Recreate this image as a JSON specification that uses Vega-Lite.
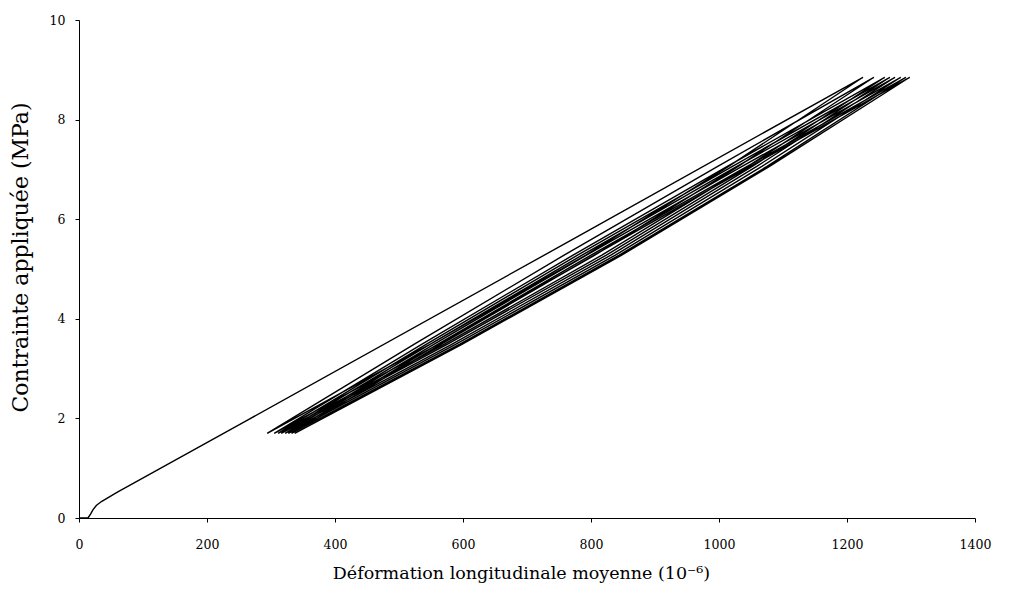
{
  "$schema": "https://vega.github.io/schema/vega-lite/v6.json",
  "autosize": "none",
  "width": 896,
  "height": 498,
  "padding": {"left": 79, "top": 20, "right": 46, "bottom": 74},
  "background": "white",
  "config": {
    "view": {"stroke": null},
    "font": "DejaVu Serif",
    "axis": {
      "grid": false,
      "domainColor": "black",
      "tickColor": "black",
      "labelColor": "black",
      "titleColor": "black",
      "labelFont": "DejaVu Serif",
      "titleFont": "DejaVu Serif",
      "labelFontSize": 12.5,
      "titleFontWeight": "normal",
      "tickSize": 4,
      "labelFlush": false
    }
  },
  "data": {
    "values": [
      {"i": 1, "x": 0, "y": 0},
      {"i": 2, "x": 14, "y": 0},
      {"i": 3, "x": 18, "y": 0.08},
      {"i": 4, "x": 22, "y": 0.17},
      {"i": 5, "x": 27, "y": 0.25},
      {"i": 6, "x": 35, "y": 0.33},
      {"i": 7, "x": 60, "y": 0.52},
      {"i": 8, "x": 264, "y": 1.97},
      {"i": 9, "x": 800, "y": 5.8},
      {"i": 10, "x": 1225, "y": 8.85},
      {"i": 11, "x": 1015, "y": 7.06},
      {"i": 12, "x": 792, "y": 5.28},
      {"i": 13, "x": 549, "y": 3.49},
      {"i": 14, "x": 294, "y": 1.7},
      {"i": 15, "x": 524, "y": 3.49},
      {"i": 16, "x": 758, "y": 5.28},
      {"i": 17, "x": 998, "y": 7.06},
      {"i": 18, "x": 1242, "y": 8.85},
      {"i": 19, "x": 1030, "y": 7.06},
      {"i": 20, "x": 806, "y": 5.28},
      {"i": 21, "x": 562, "y": 3.49},
      {"i": 22, "x": 305, "y": 1.7},
      {"i": 23, "x": 536, "y": 3.49},
      {"i": 24, "x": 772, "y": 5.28},
      {"i": 25, "x": 1013, "y": 7.06},
      {"i": 26, "x": 1259, "y": 8.85},
      {"i": 27, "x": 1045, "y": 7.06},
      {"i": 28, "x": 817, "y": 5.28},
      {"i": 29, "x": 571, "y": 3.49},
      {"i": 30, "x": 311, "y": 1.7},
      {"i": 31, "x": 543, "y": 3.49},
      {"i": 32, "x": 779, "y": 5.28},
      {"i": 33, "x": 1021, "y": 7.06},
      {"i": 34, "x": 1267, "y": 8.85},
      {"i": 35, "x": 1052, "y": 7.06},
      {"i": 36, "x": 824, "y": 5.28},
      {"i": 37, "x": 576, "y": 3.49},
      {"i": 38, "x": 316, "y": 1.7},
      {"i": 39, "x": 549, "y": 3.49},
      {"i": 40, "x": 786, "y": 5.28},
      {"i": 41, "x": 1028, "y": 7.06},
      {"i": 42, "x": 1275, "y": 8.85},
      {"i": 43, "x": 1059, "y": 7.06},
      {"i": 44, "x": 831, "y": 5.28},
      {"i": 45, "x": 583, "y": 3.49},
      {"i": 46, "x": 322, "y": 1.7},
      {"i": 47, "x": 555, "y": 3.49},
      {"i": 48, "x": 793, "y": 5.28},
      {"i": 49, "x": 1036, "y": 7.06},
      {"i": 50, "x": 1284, "y": 8.85},
      {"i": 51, "x": 1067, "y": 7.06},
      {"i": 52, "x": 838, "y": 5.28},
      {"i": 53, "x": 589, "y": 3.49},
      {"i": 54, "x": 327, "y": 1.7},
      {"i": 55, "x": 561, "y": 3.49},
      {"i": 56, "x": 800, "y": 5.28},
      {"i": 57, "x": 1044, "y": 7.06},
      {"i": 58, "x": 1292, "y": 8.85},
      {"i": 59, "x": 1075, "y": 7.06},
      {"i": 60, "x": 844, "y": 5.28},
      {"i": 61, "x": 595, "y": 3.49},
      {"i": 62, "x": 332, "y": 1.7},
      {"i": 63, "x": 566, "y": 3.49},
      {"i": 64, "x": 805, "y": 5.28},
      {"i": 65, "x": 1049, "y": 7.06},
      {"i": 66, "x": 1298, "y": 8.85},
      {"i": 67, "x": 1079, "y": 7.06},
      {"i": 68, "x": 848, "y": 5.28},
      {"i": 69, "x": 599, "y": 3.49},
      {"i": 70, "x": 337, "y": 1.7}
    ]
  },
  "mark": {"type": "line", "color": "black", "strokeWidth": 1.4},
  "encoding": {
    "order": {"field": "i", "type": "quantitative"},
    "x": {
      "field": "x",
      "type": "quantitative",
      "scale": {"domain": [0, 1400], "nice": false, "zero": true},
      "axis": {
        "values": [0, 200, 400, 600, 800, 1000, 1200, 1400],
        "format": "d",
        "labelPadding": 16,
        "title": "Déformation longitudinale moyenne (10⁻⁶)",
        "titleFontSize": 17.5,
        "titlePadding": 14,
        "titleX": 442
      }
    },
    "y": {
      "field": "y",
      "type": "quantitative",
      "scale": {"domain": [0, 10], "nice": false},
      "axis": {
        "values": [0, 2, 4, 6, 8, 10],
        "format": "d",
        "labelPadding": 10,
        "title": "Contrainte appliquée (MPa)",
        "titleFontSize": 22,
        "titlePadding": 17,
        "titleY": 237
      }
    }
  }
}
